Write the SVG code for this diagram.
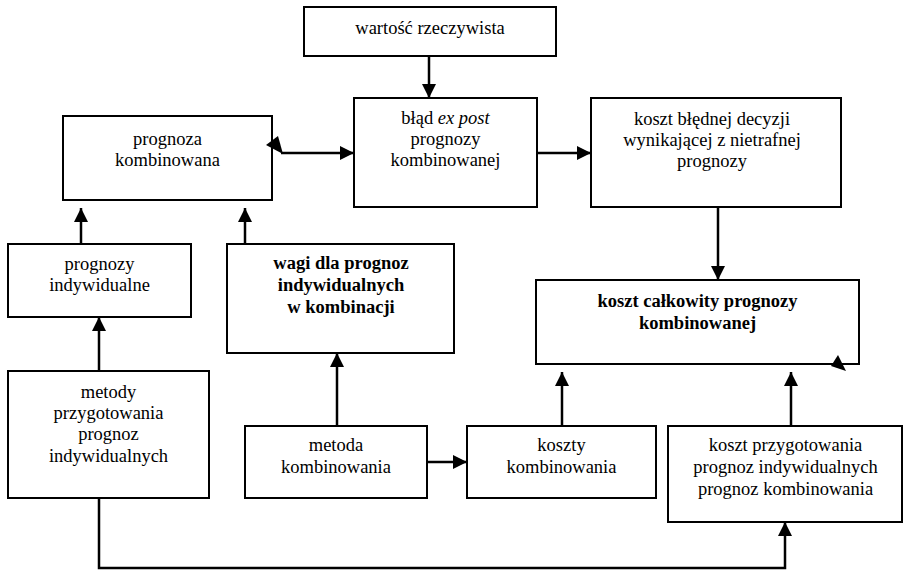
<svg xmlns="http://www.w3.org/2000/svg" width="905" height="571" viewBox="0 0 905 571">
<style>
.box{fill:#fff;stroke:#000;stroke-width:2}
text{font-family:'Liberation Serif','Tinos','DejaVu Serif',serif;font-size:18.5px;fill:#000;text-anchor:middle}
.b{font-weight:bold}
.c{fill:none;stroke:#000;stroke-width:2.5}
</style>
<defs>
<marker id="ah" markerUnits="userSpaceOnUse" markerWidth="15" markerHeight="15" refX="14" refY="7" orient="auto">
<path d="M0,0 L14,7 L0,14 Z" fill="#000"/>
</marker>
</defs>
<rect width="905" height="571" fill="#fff"/>
<g id="n-wartosc">
<rect class="box" x="304" y="7" width="252" height="49"/>
<text x="430" y="34">wartość rzeczywista</text>
</g>
<g id="n-blad">
<rect class="box" x="354" y="98" width="183" height="109"/>
<text x="445.5" y="124">błąd <tspan font-style="italic">ex post</tspan></text>
<text x="445.5" y="145">prognozy</text>
<text x="445.5" y="166">kombinowanej</text>
</g>
<g id="n-prognoza">
<rect class="box" x="63" y="116" width="209" height="84"/>
<text x="167.5" y="145">prognoza</text>
<text x="167.5" y="166">kombinowana</text>
</g>
<g id="n-koszt-bledu">
<rect class="box" x="591" y="98" width="250" height="109"/>
<text x="712" y="125">koszt błędnej decyzji</text>
<text x="712" y="146">wynikającej z nietrafnej</text>
<text x="712" y="167">prognozy</text>
</g>
<g id="n-prognozy-ind">
<rect class="box" x="8" y="244" width="183" height="73"/>
<text x="99.5" y="270">prognozy</text>
<text x="99.5" y="291">indywidualne</text>
</g>
<g id="n-wagi">
<rect class="box" x="227" y="244" width="227" height="109"/>
<text class="b" x="341" y="269">wagi dla prognoz</text>
<text class="b" x="341" y="291">indywidualnych</text>
<text class="b" x="341" y="313">w kombinacji</text>
</g>
<g id="n-koszt-calk">
<rect class="box" x="536" y="280" width="323" height="84"/>
<text class="b" x="697.5" y="307">koszt całkowity prognozy</text>
<text class="b" x="697.5" y="329">kombinowanej</text>
</g>
<g id="n-metody">
<rect class="box" x="8" y="371" width="201" height="127"/>
<text x="108.5" y="398">metody</text>
<text x="108.5" y="419">przygotowania</text>
<text x="108.5" y="440">prognoz</text>
<text x="108.5" y="462">indywidualnych</text>
</g>
<g id="n-metoda">
<rect class="box" x="245" y="426" width="182" height="72"/>
<text x="336" y="451">metoda</text>
<text x="336" y="473">kombinowania</text>
</g>
<g id="n-koszty">
<rect class="box" x="467" y="426" width="189" height="72"/>
<text x="561.5" y="451">koszty</text>
<text x="561.5" y="473">kombinowania</text>
</g>
<g id="n-koszt-przyg">
<rect class="box" x="668" y="426" width="234" height="96"/>
<text x="785.5" y="451">koszt przygotowania</text>
<text x="785.5" y="473">prognoz indywidualnych</text>
<text x="785.5" y="495">prognoz kombinowania</text>
</g>
<g id="connectors">
<line class="c" x1="429" y1="56" x2="429" y2="98" marker-end="url(#ah)"/>
<line class="c" x1="281" y1="153" x2="354" y2="153" marker-end="url(#ah)"/>
<polygon points="266,145 278,136 283,154" fill="#000"/>
<line class="c" x1="537" y1="153" x2="591" y2="153" marker-end="url(#ah)"/>
<line class="c" x1="718" y1="207" x2="718" y2="280" marker-end="url(#ah)"/>
<line class="c" x1="81" y1="244" x2="81" y2="208" marker-end="url(#ah)"/>
<line class="c" x1="245" y1="244" x2="245" y2="208" marker-end="url(#ah)"/>
<line class="c" x1="99" y1="371" x2="99" y2="317" marker-end="url(#ah)"/>
<line class="c" x1="337" y1="426" x2="337" y2="353" marker-end="url(#ah)"/>
<line class="c" x1="427" y1="462" x2="467" y2="462" marker-end="url(#ah)"/>
<line class="c" x1="562" y1="426" x2="562" y2="372" marker-end="url(#ah)"/>
<line class="c" x1="791" y1="426" x2="791" y2="372" marker-end="url(#ah)"/>
<polygon points="831,366 838,355 846,371" fill="#000"/>
<polyline class="c" points="99,498 99,568 785,568 785,522" marker-end="url(#ah)"/>
</g>
</svg>
